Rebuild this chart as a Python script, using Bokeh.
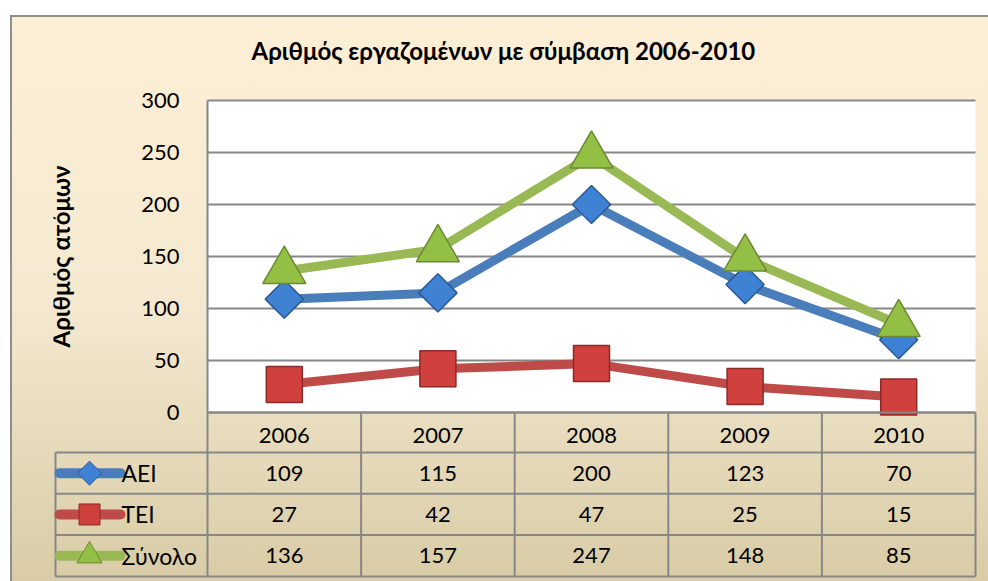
import numpy as np
from bokeh.plotting import figure
from bokeh.models import Range1d, FixedTicker, ColumnDataSource
from bokeh.core.properties import value
from bokeh.embed import file_html
from bokeh.resources import INLINE

# ---------------- data ----------------
years = ["2006", "2007", "2008", "2009", "2010"]
aei = [109, 115, 200, 123, 70]
tei = [27, 42, 47, 25, 15]
synolo = [136, 157, 247, 148, 85]
series_names = ["ΑΕΙ", "ΤΕΙ", "Σύνολο"]
y_ticks = [0, 50, 100, 150, 200, 250, 300]
title_text = "Αριθμός εργαζομένων με σύμβαση 2006-2010"
y_title = "Αριθμός ατόμων"

# ---------------- style / layout constants ----------------
FONT = "Lato"
GRID = "#878787"
line_colors = ["#4a7ebb", "#be4b48", "#98b954"]
fill_colors = ["#3f82d3", "#d0413d", "#93bf45"]
edge_colors = ["#2a5a96", "#8c2a28", "#6b8a34"]
markers = ["square", "square", "triangle"]
angles = [np.pi / 4, 0, 0]
sizes = [27, 36, 43]
leg_sizes = [17, 21, 25]

W, H = 988, 581
FRAME_L, FRAME_R, FRAME_T = 53, 977, 82
PLOT_L_PX, PLOT_R_PX, PLOT_T_PX, PLOT_B_PX = 207, 975, 100, 412

series = [aei, tei, synolo]
xs = list(range(1, len(years) + 1))
bounds = [x - 0.5 for x in xs] + [xs[-1] + 0.5]

px_x = (PLOT_R_PX - PLOT_L_PX) / len(years)            # px per category
x_start = bounds[0] - (PLOT_L_PX - FRAME_L) / px_x
x_end = bounds[-1] + (FRAME_R - PLOT_R_PX) / px_x
px_y = (PLOT_B_PX - PLOT_T_PX) / (y_ticks[-1] - y_ticks[0])  # px per unit
y_start = y_ticks[0] - (H - PLOT_B_PX) / px_y
y_end = y_ticks[-1] + (PLOT_T_PX - FRAME_T) / px_y

p = figure(width=W, height=H, x_range=Range1d(x_start, x_end),
           y_range=Range1d(y_start, y_end),
           output_backend="svg", toolbar_location=None,
           min_border_left=FRAME_L, min_border_right=W - FRAME_R,
           min_border_top=FRAME_T, min_border_bottom=0,
           background_fill_color=None, border_fill_color=None,
           outline_line_color=None)

p.styles = {
    "background-image": "linear-gradient(#8e8e8e,#8e8e8e), linear-gradient(#8e8e8e,#8e8e8e), "
                        "linear-gradient(to bottom, #fdefd5, #f4e9d0 50%, #d7caa4)",
    "background-position": "10px 15px, 10px 15px, 10px 15px",
    "background-size": "100% 2px, 2px 100%, 100% 100%",
    "background-repeat": "no-repeat",
}

p.title.text = title_text
p.title.text_font = FONT
p.title.text_font_size = "24px"
p.title.text_font_style = "bold"
p.title.text_color = "black"
p.title.align = "left"
p.title.offset = 251 - FRAME_L
p.title.standoff = 36

# white plot area
p.quad(left=[bounds[0]], right=[bounds[-1]], bottom=[y_ticks[0]], top=[y_ticks[-1]],
       fill_color="white", line_color=None, level="image")

# horizontal grid lines limited to the plot area
p.xgrid.visible = False
try:
    p.ygrid.ticker = FixedTicker(ticks=y_ticks)
    p.ygrid.cross_bounds = (bounds[0], bounds[-1])
    p.ygrid.grid_line_color = GRID
    p.ygrid.grid_line_width = 2
except Exception:
    p.ygrid.visible = False
    p.segment(x0=[bounds[0]] * len(y_ticks), x1=[bounds[-1]] * len(y_ticks),
              y0=y_ticks, y1=y_ticks, line_color=GRID, line_width=2, level="underlay")

# y axis, drawn at the left edge of the plot area
ya = p.yaxis[0]
ya.fixed_location = bounds[0]
ya.bounds = (y_ticks[0], y_ticks[-1])
ya.ticker = FixedTicker(ticks=y_ticks)
ya.major_tick_line_color = None
ya.minor_tick_line_color = None
ya.axis_line_color = GRID
ya.axis_line_width = 2
ya.major_label_text_font = FONT
ya.major_label_text_font_size = "22px"
ya.major_label_text_color = "black"
ya.major_label_standoff = 22
ya.axis_label = y_title
ya.axis_label_text_font = FONT
ya.axis_label_text_font_size = "24px"
ya.axis_label_text_font_style = "bold"
ya.axis_label_text_color = "black"
ya.axis_label_standoff = 63

# x axis: category labels form the header row of the data table
xa = p.xaxis[0]
xa.fixed_location = y_ticks[0]
xa.bounds = (bounds[0], bounds[-1])
xa.ticker = FixedTicker(ticks=xs)
xa.major_label_overrides = {x: y for x, y in zip(xs, years)}
xa.major_tick_line_color = None
xa.minor_tick_line_color = None
xa.axis_line_color = GRID
xa.axis_line_width = 2
xa.major_label_text_font = FONT
xa.major_label_text_font_size = "22px"
xa.major_label_text_color = "black"
xa.major_label_standoff = 9

# ---------------- data table ----------------
row_px = 41.3
tbl_top = y_ticks[0] - (452 - PLOT_B_PX) / px_y
row_h = row_px / px_y
nrows = len(series)
left_edge = bounds[0] - 152 / px_x
hy = [tbl_top - i * row_h for i in range(nrows + 1)]
tbl_bottom = hy[-1]
p.segment(x0=[left_edge] * (nrows + 1), x1=[bounds[-1]] * (nrows + 1), y0=hy, y1=hy,
          line_color=GRID, line_width=2)
p.segment(x0=bounds, x1=bounds, y0=[y_ticks[0]] * len(bounds), y1=[tbl_bottom] * len(bounds),
          line_color=GRID, line_width=2)
p.segment(x0=[left_edge], x1=[left_edge], y0=[tbl_top], y1=[tbl_bottom],
          line_color=GRID, line_width=2)

row_c = [tbl_top - (i + 0.5) * row_h for i in range(nrows)]
tx, ty, tt = [], [], []
for rc, vals in zip(row_c, series):
    for x, v in zip(xs, vals):
        tx.append(x)
        ty.append(rc)
        tt.append(str(v))
p.text(x="x", y="y", text="t", source=ColumnDataSource(dict(x=tx, y=ty, t=tt)),
       text_font=value(FONT), text_font_size="22px", text_align="center",
       text_baseline="middle", text_color="black")

# legend keys in the first column
k0 = left_edge + 4 / px_x
k1 = left_edge + 65 / px_x
km = left_edge + 34 / px_x
kt = left_edge + 66 / px_x
for rc, lc, fc, ec, mk, ang, sz in zip(row_c, line_colors, fill_colors, edge_colors,
                                        markers, angles, leg_sizes):
    p.segment(x0=[k0], x1=[k1], y0=[rc], y1=[rc], line_color=lc, line_width=10,
              line_cap="round")
    p.scatter([km], [rc], marker=mk, angle=ang, size=sz, fill_color=fc,
              line_color=ec, line_width=1)
p.text(x=[kt] * nrows, y=row_c, text=series_names, text_font=value(FONT),
       text_font_size="23px", text_align="left", text_baseline="middle",
       text_color="black")

# ---------------- series ----------------
for vals, lc, fc, ec, mk, ang, sz in zip(series, line_colors, fill_colors, edge_colors,
                                          markers, angles, sizes):
    p.line(xs, vals, line_color=lc, line_width=9, line_join="round")
    p.scatter(xs, vals, marker=mk, angle=ang, size=sz, fill_color=fc,
              line_color=ec, line_width=1.5)

open("out.html", "w").write(file_html(p, INLINE))
